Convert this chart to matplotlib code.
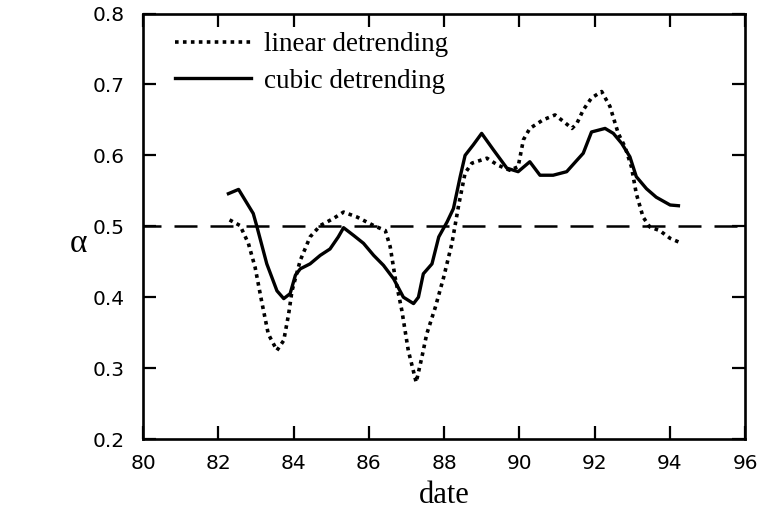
import matplotlib
matplotlib.use("Agg")
import matplotlib.pyplot as plt

# linear detrending (dotted)
lin_date = [82.30, 82.58, 82.80, 82.98, 83.15, 83.33, 83.56, 83.74, 83.87, 83.96,
            84.18, 84.44, 84.71, 85.06, 85.33, 85.69, 86.13, 86.44, 86.57, 86.70,
            86.88, 87.05, 87.26, 87.41, 87.54, 87.77, 87.99, 88.21, 88.39, 88.56,
            88.74, 89.14, 89.44, 89.75, 89.97, 90.11, 90.28, 90.63, 90.95, 91.17,
            91.40, 91.53, 91.70, 91.92, 92.19, 92.41, 92.63, 92.81, 92.98, 93.11,
            93.29, 93.47, 93.73, 94.01, 94.23]
lin_alpha = [0.509, 0.501, 0.476, 0.442, 0.395, 0.348, 0.325, 0.339, 0.376, 0.409,
             0.452, 0.485, 0.501, 0.511, 0.520, 0.513, 0.501, 0.494, 0.471, 0.428,
             0.381, 0.325, 0.280, 0.315, 0.348, 0.386, 0.428, 0.476, 0.530, 0.575,
             0.589, 0.596, 0.586, 0.579, 0.584, 0.622, 0.638, 0.650, 0.657, 0.648,
             0.638, 0.645, 0.664, 0.681, 0.690, 0.669, 0.631, 0.612, 0.584, 0.546,
             0.513, 0.499, 0.494, 0.483, 0.478]

# cubic detrending (solid)
cub_date = [82.27, 82.54, 82.93, 83.02, 83.29, 83.56, 83.74, 83.91, 84.05, 84.18,
            84.44, 84.71, 84.97, 85.19, 85.33, 85.60, 85.86, 86.13, 86.39, 86.66,
            86.92, 87.19, 87.32, 87.45, 87.68, 87.86, 88.08, 88.25, 88.43, 88.56,
            88.78, 89.00, 89.31, 89.67, 89.97, 90.28, 90.55, 90.90, 91.26, 91.53,
            91.70, 91.92, 92.28, 92.50, 92.72, 92.94, 93.11, 93.38, 93.64, 94.01,
            94.23]
cub_alpha = [0.546, 0.552, 0.518, 0.501, 0.447, 0.409, 0.398, 0.405, 0.431, 0.440,
             0.447, 0.459, 0.468, 0.485, 0.498, 0.487, 0.476, 0.459, 0.445, 0.426,
             0.400, 0.391, 0.400, 0.433, 0.447, 0.485, 0.506, 0.525, 0.570, 0.600,
             0.615, 0.631, 0.608, 0.582, 0.577, 0.591, 0.572, 0.572, 0.577, 0.593,
             0.603, 0.633, 0.638, 0.631, 0.617, 0.598, 0.570, 0.553, 0.541, 0.530,
             0.529]

x_ticks = [80, 82, 84, 86, 88, 90, 92, 94, 96]
y_ticks = [0.2, 0.3, 0.4, 0.5, 0.6, 0.7, 0.8]

fig = plt.figure(figsize=(7.68, 5.13), dpi=100)
ax = fig.add_axes([0.1862, 0.1442, 0.7839, 0.8294])

ax.plot(lin_date, lin_alpha, color="black", lw=2.6, linestyle=(0, (1.0, 1.2)),
        label="linear detrending")
ax.plot(cub_date, cub_alpha, color="black", lw=2.4, label="cubic detrending")
ax.axhline(0.5, color="black", lw=1.8, linestyle=(2, (9.2, 5.2)))

ax.set_xlim(80, 96)
ax.set_ylim(0.2, 0.8)
ax.set_xticks(x_ticks)
ax.set_yticks(y_ticks)
ax.set_yticklabels([f"{v:.1f}" for v in y_ticks])
ax.tick_params(direction="in", length=9.5, width=1.6, top=True, right=True,
               labelsize=14.5)
ax.tick_params(axis="x", pad=11)
ax.tick_params(axis="y", pad=13)
for lab in ax.get_xticklabels() + ax.get_yticklabels():
    lab.set_family("DejaVu Sans")
for sp in ax.spines.values():
    sp.set_linewidth(1.9)

ax.set_xlabel("date", family="Liberation Serif", fontsize=22, va="center")
ax.xaxis.set_label_coords(0.5, -0.132)
ax.set_ylabel("α", family="Liberation Serif", fontsize=24, rotation=0,
              va="center", ha="center")
ax.yaxis.set_label_coords(-0.107, 0.46)

ax.legend(loc="upper left", frameon=False, handlelength=2.8,
          prop={"family": "Liberation Serif", "size": 19.5},
          bbox_to_anchor=(0.053, 0.956), borderpad=0, borderaxespad=0,
          handletextpad=0.48, labelspacing=0.42)

fig.savefig("out.png", dpi=100)
